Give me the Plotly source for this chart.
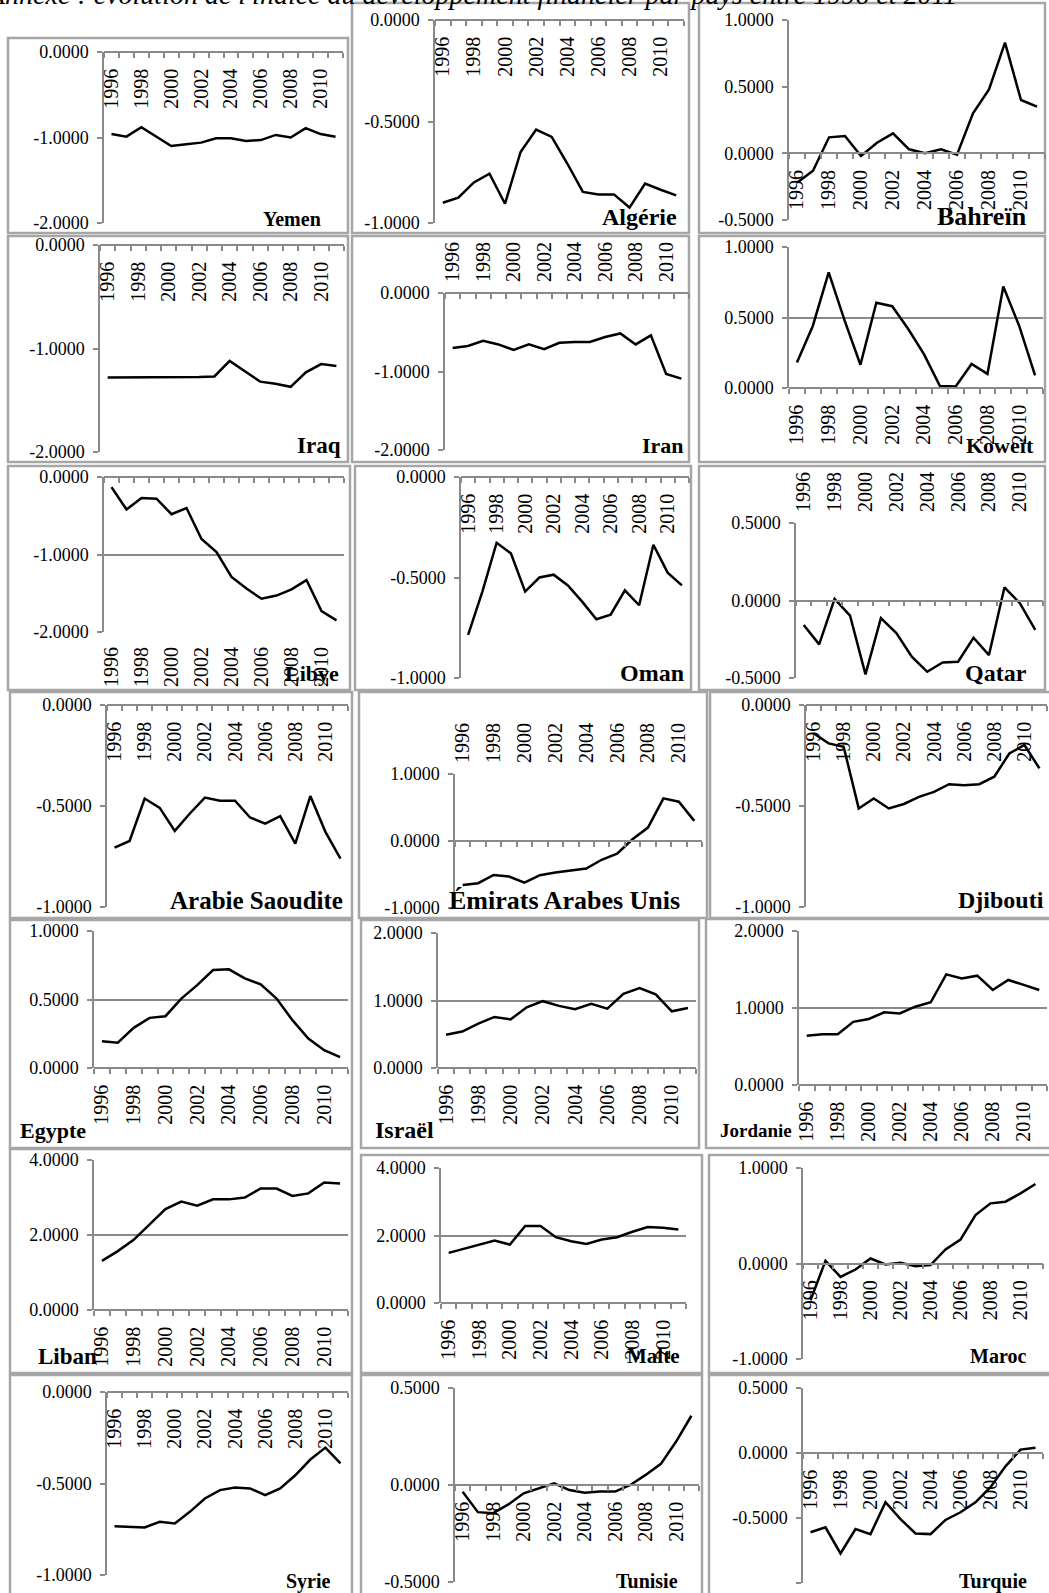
import plotly.graph_objects as go
import numpy as np

# ---------------- data ----------------
years = list(range(1996, 2012))
year_ticks = list(range(1996, 2011, 2))
year_labels = [str(y) for y in year_ticks]

countries = ["Yemen", "Algérie", "Bahreïn", "Iraq", "Iran", "Koweït", "Libye", "Oman", "Qatar",
             "Arabie Saoudite", "Émirats Arabes Unis", "Djibouti", "Egypte", "Israël", "Jordanie",
             "Liban", "Malte", "Maroc", "Syrie", "Tunisie", "Turquie"]

yemen = [-0.96, -0.99, -0.88, -0.99, -1.10, -1.08, -1.06, -1.01, -1.01, -1.04, -1.03, -0.97, -1.00, -0.89, -0.96, -0.99]
algerie = [-0.90, -0.875, -0.80, -0.757, -0.905, -0.65, -0.54, -0.576, -0.707, -0.847, -0.859, -0.859, -0.924, -0.806, -0.836, -0.864]
bahrein = [-0.22, -0.13, 0.12, 0.13, -0.02, 0.08, 0.15, 0.03, 0.0, 0.03, -0.01, 0.30, 0.48, 0.83, 0.40, 0.35]
iraq = [-1.28, -1.28, -1.28, -1.28, -1.275, -1.275, -1.275, -1.27, -1.12, -1.22, -1.32, -1.34, -1.37, -1.23, -1.15, -1.17]
iran = [-0.70, -0.675, -0.61, -0.655, -0.725, -0.655, -0.715, -0.635, -0.625, -0.625, -0.56, -0.515, -0.655, -0.54, -1.03, -1.09]
koweit = [0.18, 0.44, 0.82, 0.48, 0.165, 0.605, 0.58, 0.42, 0.24, 0.015, 0.01, 0.17, 0.10, 0.72, 0.44, 0.09]
libye = [-0.13, -0.42, -0.27, -0.28, -0.48, -0.40, -0.80, -0.97, -1.29, -1.44, -1.57, -1.53, -1.45, -1.33, -1.73, -1.85]
oman = [-0.785, -0.57, -0.327, -0.38, -0.57, -0.50, -0.486, -0.54, -0.62, -0.708, -0.685, -0.564, -0.638, -0.337, -0.476, -0.539]
qatar = [-0.158, -0.283, 0.011, -0.097, -0.477, -0.114, -0.21, -0.363, -0.46, -0.40, -0.395, -0.24, -0.352, 0.084, -0.017, -0.19]
arabie = [-0.706, -0.673, -0.463, -0.509, -0.623, -0.537, -0.458, -0.474, -0.474, -0.557, -0.587, -0.55, -0.686, -0.451, -0.628, -0.76]
emirats = [-0.657, -0.63, -0.507, -0.53, -0.62, -0.51, -0.47, -0.443, -0.41, -0.28, -0.19, 0.025, 0.20, 0.637, 0.587, 0.30]
djibouti = [-0.14, -0.19, -0.207, -0.512, -0.463, -0.512, -0.49, -0.455, -0.43, -0.392, -0.397, -0.392, -0.355, -0.24, -0.198, -0.314]
egypte = [0.195, 0.185, 0.293, 0.366, 0.378, 0.507, 0.605, 0.715, 0.72, 0.654, 0.61, 0.507, 0.349, 0.215, 0.13, 0.08]
israel = [0.494, 0.54, 0.657, 0.756, 0.72, 0.90, 0.99, 0.92, 0.87, 0.95, 0.88, 1.10, 1.185, 1.09, 0.84, 0.89]
jordanie = [0.64, 0.658, 0.658, 0.82, 0.857, 0.944, 0.93, 1.017, 1.074, 1.437, 1.385, 1.42, 1.234, 1.364, 1.30, 1.234]
liban = [1.31, 1.57, 1.87, 2.27, 2.69, 2.89, 2.78, 2.95, 2.95, 3.0, 3.24, 3.24, 3.04, 3.11, 3.40, 3.37]
malte = [1.485, 1.60, 1.73, 1.85, 1.73, 2.28, 2.28, 1.95, 1.83, 1.75, 1.88, 1.95, 2.11, 2.25, 2.23, 2.18]
maroc = [-0.385, 0.028, -0.14, -0.063, 0.052, -0.01, 0.007, -0.028, -0.017, 0.147, 0.25, 0.507, 0.63, 0.647, 0.734, 0.832]
syrie = [-0.733, -0.736, -0.74, -0.709, -0.718, -0.655, -0.582, -0.536, -0.522, -0.527, -0.564, -0.527, -0.455, -0.369, -0.304, -0.39]
tunisie = [-0.035, -0.14, -0.145, -0.10, -0.043, -0.017, 0.009, -0.026, -0.04, -0.034, -0.034, 0.0, 0.052, 0.109, 0.224, 0.357]
turquie = [-0.61, -0.572, -0.773, -0.585, -0.624, -0.379, -0.508, -0.619, -0.624, -0.515, -0.456, -0.379, -0.263, -0.103, 0.026, 0.041]

series = [yemen, algerie, bahrein, iraq, iran, koweit, libye, oman, qatar, arabie, emirats, djibouti,
          egypte, israel, jordanie, liban, malte, maroc, syrie, tunisie, turquie]

# y-axis scale per panel: (min, max, step)
y_scales = [(-2, 0, 1), (-1, 0, 0.5), (-0.5, 1, 0.5), (-2, 0, 1), (-2, 0, 1), (0, 1, 0.5),
            (-2, 0, 1), (-1, 0, 0.5), (-0.5, 0.5, 0.5), (-1, 0, 0.5), (-1, 1, 1), (-1, 0, 0.5),
            (0, 1, 0.5), (0, 2, 1), (0, 2, 1), (0, 4, 2), (0, 4, 2), (-1, 1, 1),
            (-1, 0, 0.5), (-0.5, 0.5, 0.5), (-1, 0.5, 0.5)]

title_text = "Annexe : évolution de l'indice du développement financier par pays entre 1996 et 2011"

# ---------------- layout geometry (pixels) ----------------
W, H = 1049, 1593
FONT = "Liberation Serif"
GRAY = "#8a8a8a"
BOX = "#a6a6a6"

# plot area: (left, right, top, bottom)
plot_px = [(104, 343, 52, 223), (435, 684, 20, 223), (789, 1045, 20, 220),
           (100, 344, 245, 452), (445, 689, 293, 450), (789, 1043, 247, 388),
           (104, 344, 477, 632), (461, 689, 477, 678), (796, 1043, 523, 678),
           (107, 348, 705, 907), (455, 702, 774, 908), (806, 1047, 705, 907),
           (94, 348, 931, 1068), (438, 696, 933, 1068), (799, 1047, 931, 1085),
           (94, 348, 1160, 1310), (441, 686, 1168, 1303), (803, 1043, 1168, 1359),
           (107, 348, 1392, 1575), (455, 699, 1388, 1582), (803, 1043, 1388, 1583)]
grid_on = [False, False, False, False, False, True, True, False, False, False, False, False,
           True, True, True, True, True, False, False, False, False]
label_mode = ["axis", "axis", "axis", "axis", "top", "axis", "bottom", "axis", "top",
              "axis", "top", "axis", "axis", "axis", "axis", "axis", "axis", "axis",
              "axis", "axis", "axis"]
box_px = [(8, 38, 348, 233), (352, 3, 689, 233), (699, 3, 1045, 233),
          (8, 236, 348, 462), (352, 236, 689, 462), (699, 236, 1045, 462),
          (8, 466, 350, 690), (355, 466, 691, 690), (699, 466, 1045, 690),
          (10, 692, 352, 918), (359, 692, 707, 918), (710, 692, 1052, 918),
          (10, 920, 352, 1148), (361, 920, 699, 1148), (706, 919, 1052, 1148),
          (10, 1149, 352, 1373), (361, 1155, 702, 1373), (709, 1155, 1052, 1373),
          (10, 1375, 352, 1600), (361, 1375, 702, 1600), (709, 1375, 1052, 1600)]
name_pos = [("right", 323, 219, 20), ("right", 679, 217, 24), ("right", 1029, 217, 26),
            ("right", 343, 445, 23), ("right", 686, 445, 22), ("right", 1036, 445, 22),
            ("right", 341, 673, 22), ("right", 686, 673, 24), ("right", 1029, 673, 24),
            ("right", 345, 900, 25), ("left", 447, 900, 26), ("right", 1046, 900, 24),
            ("left", 18, 1130, 22), ("left", 373, 1130, 24), ("left", 718, 1130, 19),
            ("left", 36, 1356, 23), ("right", 681, 1356, 21), ("right", 1028, 1356, 20),
            ("right", 333, 1581, 20), ("right", 680, 1581, 20), ("right", 1029, 1581, 20)]


def px(x):
    return x / W


def py(y):
    return 1 - y / H


fig = go.Figure()
layout = {}
shapes = []
annotations = []
minor_vals = [y - 0.5 for y in years] + [years[-1] + 0.5]
xrange = [years[0] - 0.5, years[-1] + 0.5]
extra_idx = len(series)

for i, (name, vals) in enumerate(zip(countries, series), start=1):
    sfx = "" if i == 1 else str(i)
    xl, xr, yt, yb = plot_px[i - 1]
    ymin, ymax, step = y_scales[i - 1]
    ydom = [py(yb), py(yt)]
    zero_pos = ydom[0] + (0 - ymin) / (ymax - ymin) * (ydom[1] - ydom[0])
    tv = [float(v) for v in np.round(np.arange(ymin, ymax + step / 2, step), 6)]
    layout["yaxis" + sfx] = dict(
        domain=ydom, range=[ymin, ymax], anchor="x" + sfx,
        tickmode="array", tickvals=tv, ticktext=[f"{v:.4f}" for v in tv],
        ticks="outside", ticklen=5, tickwidth=1.5, tickcolor=GRAY,
        showline=True, linecolor=GRAY, linewidth=1.5,
        showgrid=grid_on[i - 1], gridcolor=GRAY, gridwidth=1.5, zeroline=False,
        tickfont=dict(family=FONT, size=18, color="black"), ticklabelstandoff=5,
        fixedrange=True, automargin=False)
    mode = label_mode[i - 1]
    layout["xaxis" + sfx] = dict(
        domain=[px(xl), px(xr)], range=xrange, anchor="free", position=zero_pos,
        showline=True, linecolor=GRAY, linewidth=1.5, showgrid=False, zeroline=False,
        tickmode="array", tickvals=year_ticks, ticktext=year_labels, ticks="",
        showticklabels=(mode == "axis"), tickangle=-90,
        tickfont=dict(family=FONT, size=20, color="black"), ticklabelstandoff=8,
        minor=dict(tickmode="array", tickvals=minor_vals, ticks="outside", ticklen=5,
                   tickwidth=1.5, tickcolor=GRAY),
        fixedrange=True, automargin=False)
    fig.add_trace(go.Scatter(x=years, y=vals, xaxis="x" + sfx, yaxis="y" + sfx,
                             mode="lines", line=dict(color="black", width=2.5),
                             showlegend=False, hoverinfo="skip"))
    if mode in ("top", "bottom"):
        extra_idx += 1
        ek = str(extra_idx)
        layout["xaxis" + ek] = dict(
            range=xrange, anchor="y" + sfx, overlaying="x" + sfx, side=mode,
            showline=False, showgrid=False, zeroline=False, ticks="",
            tickmode="array", tickvals=year_ticks, ticktext=year_labels, tickangle=-90,
            tickfont=dict(family=FONT, size=20, color="black"), ticklabelstandoff=10,
            fixedrange=True, automargin=False)
        fig.add_trace(go.Scatter(x=years, y=[None] * len(years), xaxis="x" + ek,
                                 yaxis="y" + sfx, mode="lines", showlegend=False,
                                 hoverinfo="skip"))
    bx0, by0, bx1, by1 = box_px[i - 1]
    shapes.append(dict(type="rect", xref="paper", yref="paper",
                       x0=px(bx0), x1=px(bx1), y0=py(by1), y1=py(by0),
                       line=dict(color=BOX, width=2.5), fillcolor="rgba(0,0,0,0)",
                       layer="below"))
    anc, tx, ty, fs = name_pos[i - 1]
    annotations.append(dict(text="<b>" + name + "</b>", xref="paper", yref="paper",
                            x=px(tx), y=py(ty), xanchor=anc, yanchor="middle",
                            showarrow=False,
                            font=dict(family=FONT, size=fs, color="black")))

annotations.append(dict(text="<i>" + title_text + "</i>", xref="paper", yref="paper",
                        x=px(-16), y=py(-5), xanchor="left", yanchor="middle",
                        showarrow=False, font=dict(family=FONT, size=28, color="black")))

fig.update_layout(**layout)
fig.update_layout(width=W, height=H, margin=dict(l=0, r=0, t=0, b=0),
                  paper_bgcolor="white", plot_bgcolor="rgba(0,0,0,0)",
                  shapes=shapes, annotations=annotations, showlegend=False)

fig.write_html("out.html", config={"displayModeBar": False},
               post_script="document.body.style.margin='0';"
                           "document.body.style.overflow='hidden';"
                           "document.documentElement.style.overflow='hidden';")
